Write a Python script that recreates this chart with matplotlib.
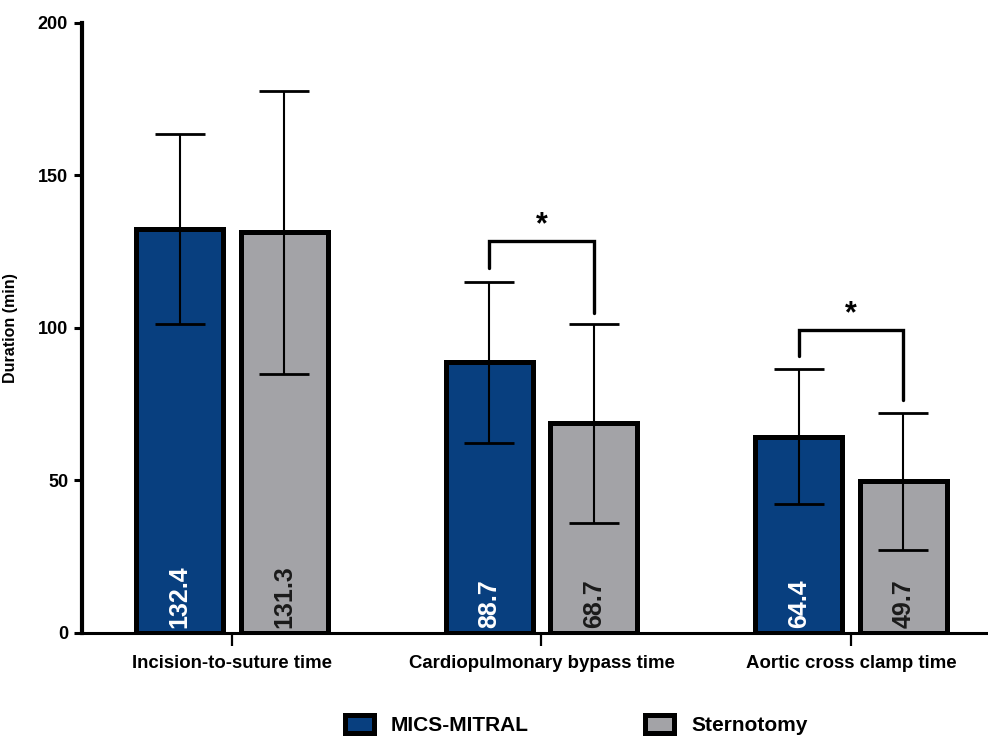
import numpy as np
import matplotlib.pyplot as plt

plt.rcParams['font.family'] = ['Liberation Sans', 'DejaVu Sans']
plt.rcParams['font.weight'] = 'bold'

categories = ['Incision-to-suture time', 'Cardiopulmonary bypass time', 'Aortic cross clamp time']
groups = ['MICS-MITRAL', 'Sternotomy']
mics_mean = [132.4, 88.7, 64.4]
mics_sd = [31.2, 26.5, 22.2]
stern_mean = [131.3, 68.7, 49.7]
stern_sd = [46.3, 32.6, 22.4]
labels_mics = ['132.4', '88.7', '64.4']
labels_stern = ['131.3', '68.7', '49.7']

# significance brackets: category index, bar top, left leg end, right leg end
sig_idx = [1, 2]
sig_top = [128.5, 99.3]
sig_left = [119.7, 90.8]
sig_right = [105.0, 76.4]

blue = '#083F7F'
gray = '#A3A3A7'

fig = plt.figure(figsize=(9.88, 7.4), dpi=100)
ax = fig.add_axes([0.083, 0.1446, 0.917, 0.8245])

x = np.arange(len(categories))
off = 0.169
w = 0.281

ax.bar(x - off, mics_mean, w, color=blue, edgecolor='black', linewidth=3.6, zorder=2)
ax.bar(x + off, stern_mean, w, color=gray, edgecolor='black', linewidth=3.6, zorder=2)
ax.errorbar(x - off, mics_mean, yerr=mics_sd, fmt='none', ecolor='black',
            elinewidth=1.5, capsize=18, capthick=2, zorder=3)
ax.errorbar(x + off, stern_mean, yerr=stern_sd, fmt='none', ecolor='black',
            elinewidth=1.5, capsize=18, capthick=2, zorder=3)

for i in range(len(categories)):
    ax.text(x[i] - off, 1.6, labels_mics[i], rotation=90, ha='center', va='bottom',
            color='white', fontsize=18, fontweight='bold', zorder=4)
    ax.text(x[i] + off, 1.6, labels_stern[i], rotation=90, ha='center', va='bottom',
            color='#1a1a1a', fontsize=18, fontweight='bold', zorder=4)

for i, t, l, r in zip(sig_idx, sig_top, sig_left, sig_right):
    ax.plot([x[i] - off, x[i] - off, x[i] + off, x[i] + off], [l, t, t, r],
            color='black', linewidth=2.4, solid_capstyle='round',
            solid_joinstyle='miter', zorder=3)
    ax.text(x[i], t + 0.3, '*', ha='center', va='bottom', fontsize=22, fontweight='bold')

ax.set_xlim(-0.485, 2.443)
ax.set_ylim(0, 200)
ax.set_yticks([0, 50, 100, 150, 200])
ax.set_xticks(x)
ax.set_xticklabels(categories, fontsize=13.4, fontweight='bold')
ax.tick_params(axis='y', labelsize=13, length=6, width=2.2, pad=4)
ax.tick_params(axis='x', length=9, width=1.6, pad=7)
for lab in ax.get_yticklabels():
    lab.set_fontweight('bold')
ax.set_ylabel('Duration (min)', fontsize=11.5, fontweight='bold', labelpad=14)

ax.spines['top'].set_visible(False)
ax.spines['right'].set_visible(False)
ax.spines['left'].set_linewidth(3)
ax.spines['bottom'].set_linewidth(2.2)

handles = [plt.Rectangle((0, 0), 1, 1, facecolor=blue, edgecolor='black', linewidth=3.6),
           plt.Rectangle((0, 0), 1, 1, facecolor=gray, edgecolor='black', linewidth=3.6)]
fig.legend(handles, groups, loc='center', bbox_to_anchor=(0.583, 0.02), ncol=2,
           frameon=False, prop={'size': 15, 'weight': 'bold'},
           handlelength=1.4, handleheight=0.9, handletextpad=0.8, columnspacing=5.6,
           borderpad=0.1)

fig.savefig('out.png', dpi=100)
